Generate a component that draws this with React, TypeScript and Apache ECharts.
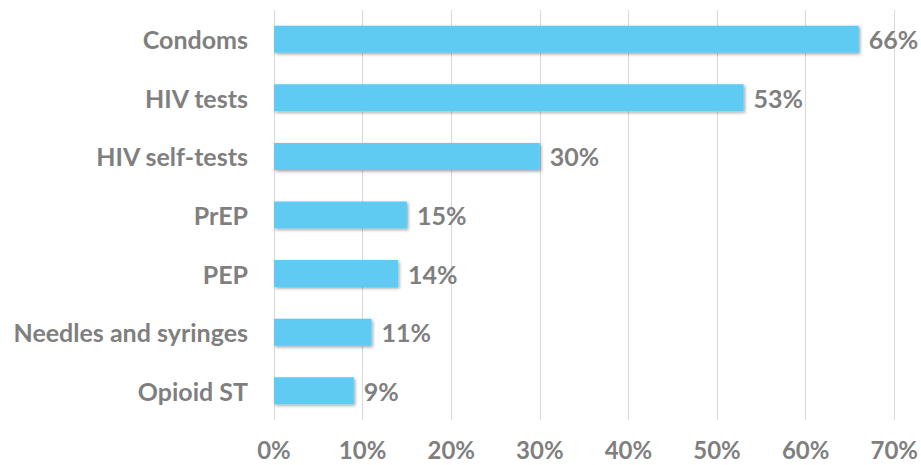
import React, { useEffect, useRef } from "react";
import * as echarts from "echarts";

const categories = ["Condoms", "HIV tests", "HIV self-tests", "PrEP", "PEP", "Needles and syringes", "Opioid ST"];
const values = [66, 53, 30, 15, 14, 11, 9];
const xTicks = [0, 10, 20, 30, 40, 50, 60, 70];

export default function App() {
  const ref = useRef<HTMLDivElement>(null);
  useEffect(() => {
    if (!ref.current) return;
    const chart = echarts.init(ref.current, null, { renderer: "svg" });
    const font = "Lato, 'Open Sans', sans-serif";
    chart.setOption({
      animation: false,
      grid: { left: 274, right: 26, top: 10, bottom: 45, containLabel: false },
      xAxis: {
        type: "value",
        min: xTicks[0],
        max: xTicks[xTicks.length - 1],
        interval: 10,
        axisLine: { show: false },
        axisTick: { show: false },
        splitLine: { show: true, lineStyle: { color: "#D9D9D9", width: 1 } },
        axisLabel: {
          formatter: (v: number) => v + "%",
          color: "#7F7F7F",
          fontWeight: "bold",
          fontSize: 24,
          lineHeight: 24,
          fontFamily: font,
          margin: 17,
        },
      },
      yAxis: {
        type: "category",
        data: categories,
        inverse: true,
        axisLine: { show: false },
        axisTick: { show: false },
        axisLabel: {
          color: "#7F7F7F",
          fontWeight: "bold",
          fontSize: 25,
          fontFamily: font,
          margin: 26,
        },
      },
      series: [
        {
          type: "bar",
          data: values,
          barWidth: 27,
          itemStyle: {
            color: "#5FCBF3",
            shadowColor: "rgba(0,0,0,0.35)",
            shadowBlur: 3,
            shadowOffsetX: 1.5,
            shadowOffsetY: 1.5,
          },
          label: {
            show: true,
            position: "right",
            distance: 10,
            formatter: (p: any) => p.value + "%",
            color: "#7F7F7F",
            fontWeight: "bold",
            fontSize: 25,
            fontFamily: font,
          },
        },
      ],
    });
    return () => chart.dispose();
  }, []);
  return (
    <div
      ref={ref}
      style={{ position: "absolute", left: 0, top: 0, width: 921, height: 465 }}
    />
  );
}
